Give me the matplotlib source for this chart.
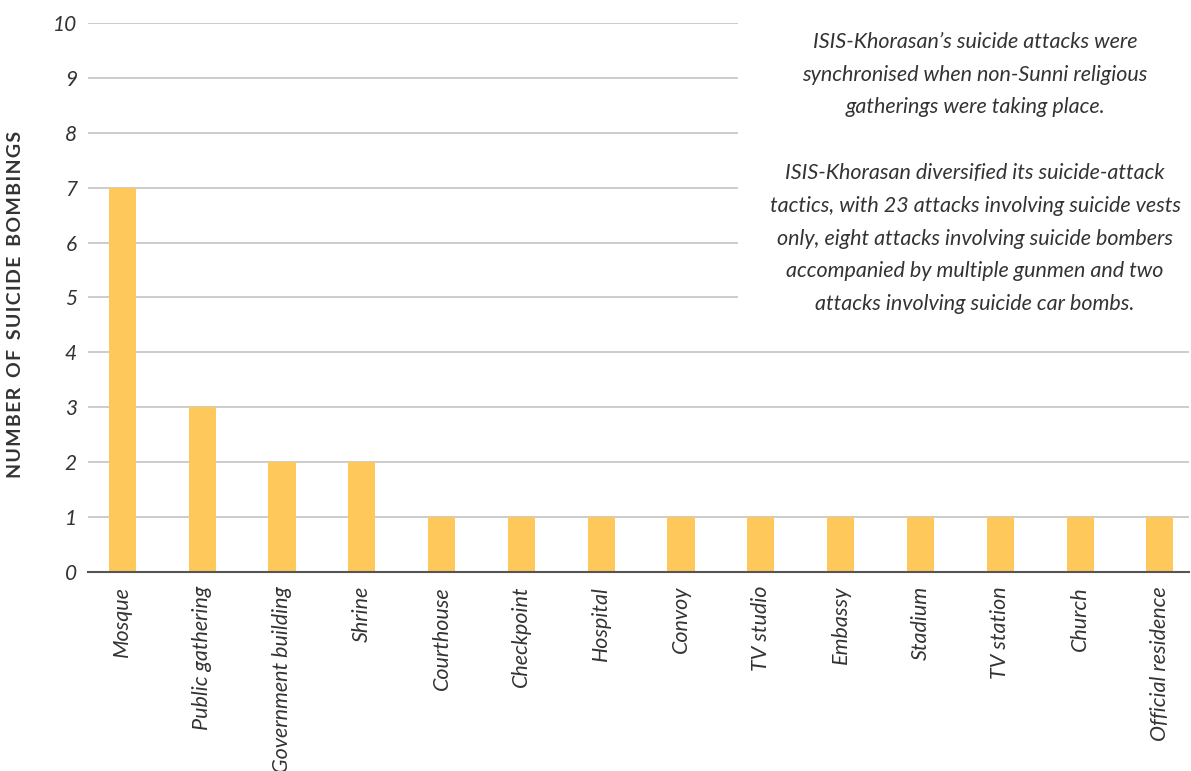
import matplotlib
matplotlib.use("Agg")
import matplotlib.pyplot as plt
from matplotlib.patches import Rectangle

categories = ["Mosque", "Public gathering", "Government building", "Shrine",
              "Courthouse", "Checkpoint", "Hospital", "Convoy", "TV studio",
              "Embassy", "Stadium", "TV station", "Church", "Official residence"]
bombings = [7, 3, 2, 2, 1, 1, 1, 1, 1, 1, 1, 1, 1, 1]
yticks = list(range(0, 11))
ylabel = "NUMBER OF SUICIDE BOMBINGS"

note = ("ISIS-Khorasan\u2019s suicide attacks were\n"
        "synchronised when non-Sunni religious\n"
        "gatherings were taking place.\n"
        "\n"
        "ISIS-Khorasan diversified its suicide-attack\n"
        "tactics, with 23 attacks involving suicide vests\n"
        "only, eight attacks involving suicide bombers\n"
        "accompanied by multiple gunmen and two\n"
        "attacks involving suicide car bombs.")

BAR = "#FFC85A"
TXT = "#333333"
GRID = "#C8C8C8"

plt.rcParams["font.family"] = ["Lato", "DejaVu Sans"]

fig = plt.figure(figsize=(11.91, 7.71), dpi=100)
ax = fig.add_axes([0.0739, 0.2581, 0.9241, 0.7121])

x = list(range(len(categories)))
ax.bar(x, bombings, width=0.34, color=BAR, zorder=3)

ax.set_xlim(-0.43, 13.36)
ax.set_ylim(0, 10)
ax.set_yticks(yticks)
ax.set_yticklabels([str(v) for v in yticks], fontstyle="italic", fontsize=15, color=TXT)
ax.set_xticks(x)
ax.set_xticklabels(categories, rotation=90, fontstyle="italic", fontsize=15.5,
                   color=TXT, va="top", ha="center")
ax.tick_params(axis="both", length=0)
ax.tick_params(axis="y", pad=8)
ax.tick_params(axis="x", pad=10)

ax.set_axisbelow(True)
ax.yaxis.grid(True, color=GRID, linewidth=1.3)
for s in ["top", "right", "left"]:
    ax.spines[s].set_visible(False)
ax.spines["bottom"].set_color("#555555")
ax.spines["bottom"].set_linewidth(1.5)
ax.spines["bottom"].set_zorder(4)

# letter-spaced axis title
spaced = "\u200a".join(ylabel).replace("\u200a \u200a", "\u2009 \u2009")
ax.set_ylabel(spaced, fontsize=14, fontweight="bold", color=TXT)
ax.yaxis.set_label_coords(-0.058, 0.488)

# white panel holding the annotation, hiding the upper gridlines behind it
fig.patches.append(Rectangle((738 / 1191, 1 - 330 / 771), 1, 1,
                             transform=fig.transFigure, facecolor="white",
                             edgecolor="none", zorder=2))
fig.text(975 / 1191, 1 - 173 / 771, note, ha="center", va="center",
         fontstyle="italic", fontsize=15.5, color=TXT, linespacing=1.8,
         zorder=5)

fig.savefig("out.png", dpi=100, facecolor="white")
